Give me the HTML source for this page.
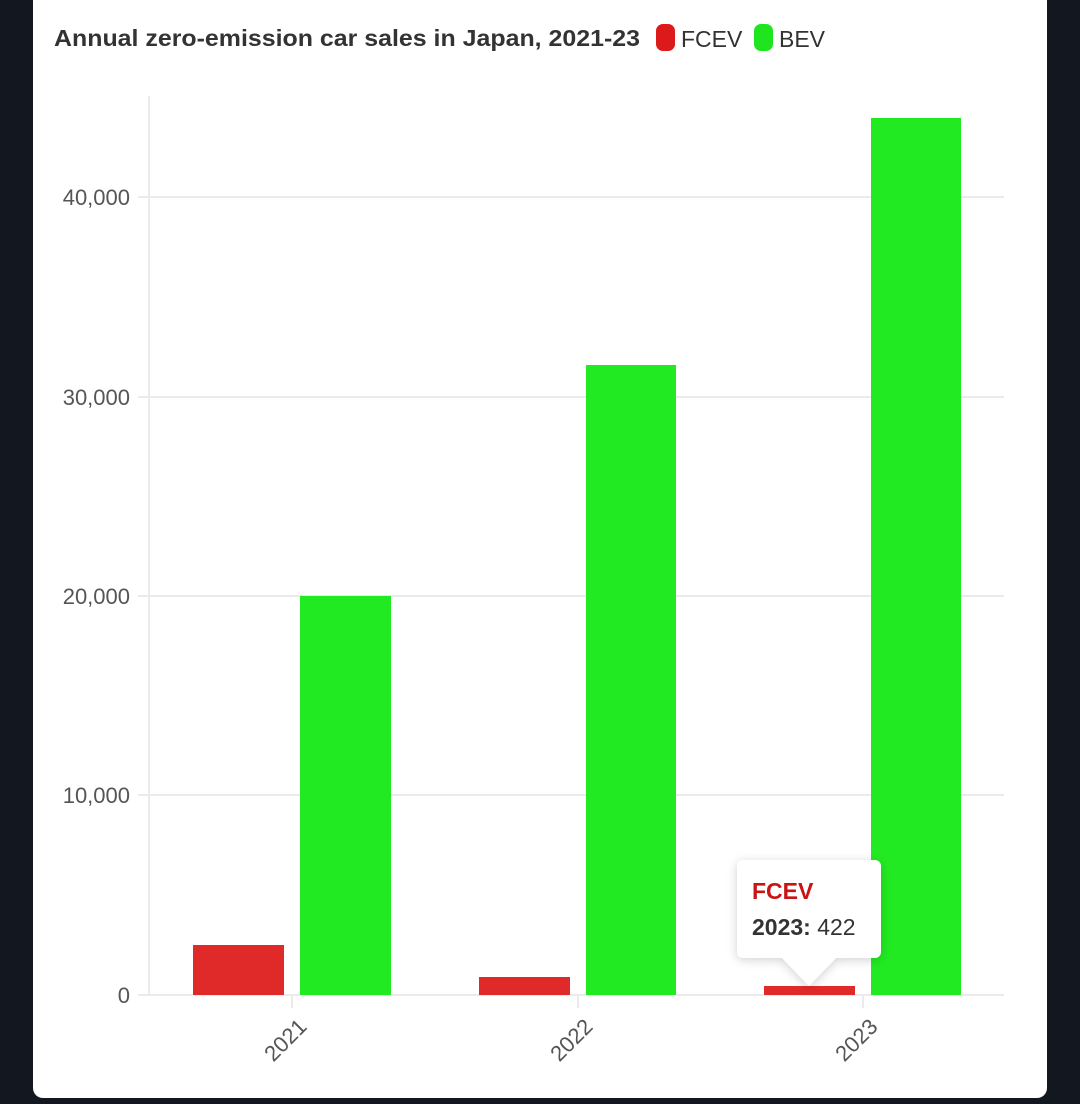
<!DOCTYPE html>
<html><head><meta charset="utf-8"><style>
html,body{margin:0;padding:0;background:#131720;width:1080px;height:1104px;overflow:hidden}
svg{display:block;font-family:"Liberation Sans",sans-serif}
</style></head><body>
<svg width="1080" height="1104" viewBox="0 0 1080 1104">
<defs><filter id="sh" x="-30%" y="-30%" width="160%" height="160%"><feDropShadow dx="0" dy="2" stdDeviation="5" flood-color="#000" flood-opacity="0.18"/></filter></defs>
<rect x="33" y="-20" width="1014" height="1118" rx="10" fill="#fff"/>
<text x="54" y="46" font-size="23" font-weight="bold" fill="#333" textLength="586" lengthAdjust="spacingAndGlyphs">Annual zero-emission car sales in Japan, 2021-23</text>
<rect x="656" y="24" width="19" height="27" rx="7" fill="#dd1a1a"/>
<text x="681" y="47" font-size="23" fill="#333">FCEV</text>
<rect x="754" y="24" width="19" height="27" rx="7" fill="#1ee51e"/>
<text x="779" y="47" font-size="23" fill="#333">BEV</text>
<g stroke="#ebebeb" stroke-width="2">
<line x1="138" x2="1004" y1="197" y2="197"/>
<line x1="138" x2="1004" y1="397" y2="397"/>
<line x1="138" x2="1004" y1="596" y2="596"/>
<line x1="138" x2="1004" y1="795" y2="795"/>
<line x1="138" x2="1004" y1="995" y2="995"/>
<line x1="149" x2="149" y1="96" y2="995"/>
<line x1="292" x2="292" y1="995" y2="1008"/>
<line x1="578" x2="578" y1="995" y2="1008"/>
<line x1="863" x2="863" y1="995" y2="1008"/>
</g>
<g font-size="22" fill="#555" text-anchor="end">
<text x="130" y="205">40,000</text>
<text x="130" y="405">30,000</text>
<text x="130" y="604">20,000</text>
<text x="130" y="803">10,000</text>
<text x="130" y="1003">0</text>
</g>
<g fill="#e02a2a">
<rect x="193" y="945" width="91" height="50"/>
<rect x="479" y="977" width="91" height="18"/>
<rect x="764" y="986" width="91" height="9"/>
</g>
<g fill="#22ea22">
<rect x="300" y="596" width="91" height="399"/>
<rect x="586" y="365" width="90" height="630"/>
<rect x="871" y="118" width="90" height="877"/>
</g>
<g font-size="22" fill="#555" text-anchor="end">
<text transform="translate(308,1028) rotate(-45)">2021</text>
<text transform="translate(594,1028) rotate(-45)">2022</text>
<text transform="translate(879,1028) rotate(-45)">2023</text>
</g>
<g filter="url(#sh)">
<path d="M743 860 H875 a6 6 0 0 1 6 6 V952 a6 6 0 0 1 -6 6 H836 L809 986 L782 958 H743 a6 6 0 0 1 -6 -6 V866 a6 6 0 0 1 6 -6Z" fill="#fff"/>
</g>
<text x="752" y="899" font-size="23" font-weight="bold" fill="#c81414">FCEV</text>
<text x="752" y="935" font-size="23" fill="#333"><tspan font-weight="bold">2023:</tspan> 422</text>
</svg>
</body></html>
